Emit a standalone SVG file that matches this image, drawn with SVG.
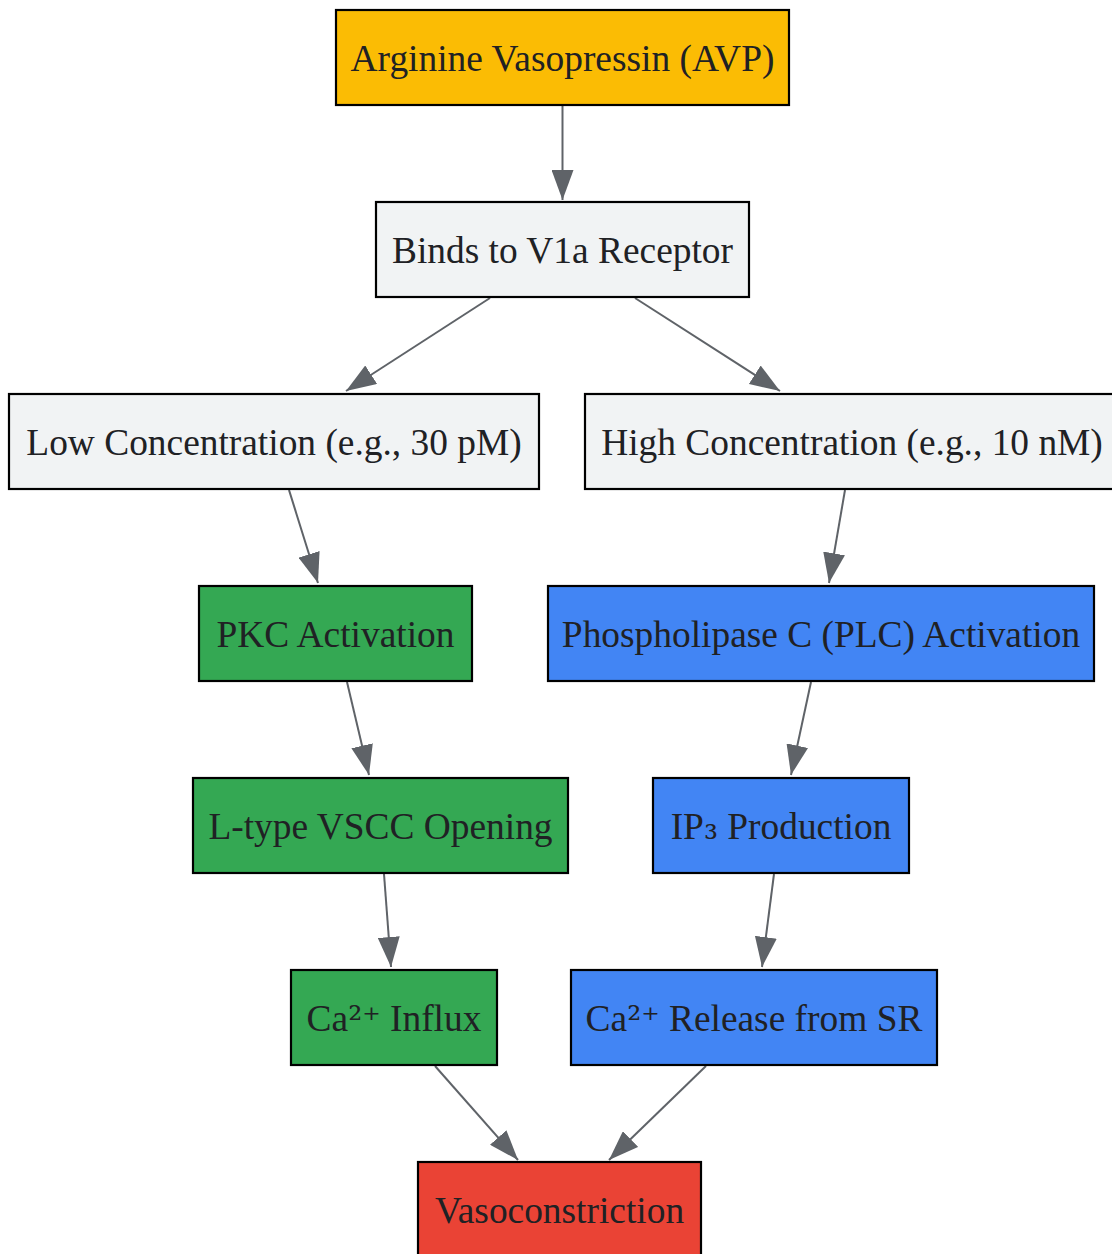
<svg xmlns="http://www.w3.org/2000/svg" width="1112" height="1254" viewBox="0 0 1112 1254">
<defs>
<style>
.n rect{stroke:#000;stroke-width:2.2}
.n text{font-family:"Liberation Serif","Times New Roman",serif;font-size:37.4px;fill:#202124;text-anchor:middle}
.s{font-family:"DejaVu Serif",serif;font-size:35px}
.y{fill:#FBBC04}.g{fill:#F1F3F4}.gr{fill:#34A853}.b{fill:#4285F4}.r{fill:#EA4335}
#edges line{stroke:#5F6368;stroke-width:2;marker-end:url(#ah)}
</style>
<marker id="ah" markerUnits="userSpaceOnUse" markerWidth="32" markerHeight="22" refX="30" refY="11" orient="auto">
<path d="M0,0 L30,11 L0,22 Z" fill="#5F6368"/>
</marker>
</defs>
<rect width="1112" height="1254" fill="#fff"/>
<g id="edges">
<line x1="562.5" y1="105" x2="562.5" y2="200"/>
<line x1="490" y1="298" x2="346" y2="391"/>
<line x1="635" y1="298" x2="780" y2="391"/>
<line x1="289" y1="490" x2="318" y2="583"/>
<line x1="845" y1="490" x2="829" y2="583"/>
<line x1="347" y1="682" x2="369" y2="775"/>
<line x1="811" y1="682" x2="791" y2="775"/>
<line x1="384" y1="874" x2="391" y2="967"/>
<line x1="774" y1="874" x2="762" y2="967"/>
<line x1="435" y1="1066" x2="518" y2="1160"/>
<line x1="706" y1="1066" x2="609" y2="1160"/>
</g>
<g id="avp" class="n"><rect class="y" x="336" y="10" width="453" height="95"/><text x="562.5" y="71">Arginine Vasopressin (AVP)</text></g>
<g id="binds" class="n"><rect class="g" x="376" y="202" width="373" height="95"/><text x="562.5" y="263">Binds to V1a Receptor</text></g>
<g id="low" class="n"><rect class="g" x="9" y="394" width="530" height="95"/><text x="274" y="455">Low Concentration (e.g., 30 pM)</text></g>
<g id="high" class="n"><rect class="g" x="585" y="394" width="530" height="95"/><text x="852" y="455">High Concentration (e.g., 10 nM)</text></g>
<g id="pkc" class="n"><rect class="gr" x="199" y="586" width="273" height="95"/><text x="335.5" y="647">PKC Activation</text></g>
<g id="plc" class="n"><rect class="b" x="548" y="586" width="546" height="95"/><text x="821" y="647">Phospholipase C (PLC) Activation</text></g>
<g id="ltype" class="n"><rect class="gr" x="193" y="778" width="375" height="95"/><text x="380.5" y="839">L-type VSCC Opening</text></g>
<g id="ip3" class="n"><rect class="b" x="653" y="778" width="256" height="95"/><text x="781" y="839">IP<tspan class="s">₃</tspan> Production</text></g>
<g id="influx" class="n"><rect class="gr" x="291" y="970" width="206" height="95"/><text x="394" y="1031">Ca<tspan class="s">²⁺</tspan> Influx</text></g>
<g id="release" class="n"><rect class="b" x="571" y="970" width="366" height="95"/><text x="754" y="1031">Ca<tspan class="s">²⁺</tspan> Release from SR</text></g>
<g id="vaso" class="n"><rect class="r" x="418" y="1162" width="283" height="95"/><text x="559.5" y="1223">Vasoconstriction</text></g>
</svg>
